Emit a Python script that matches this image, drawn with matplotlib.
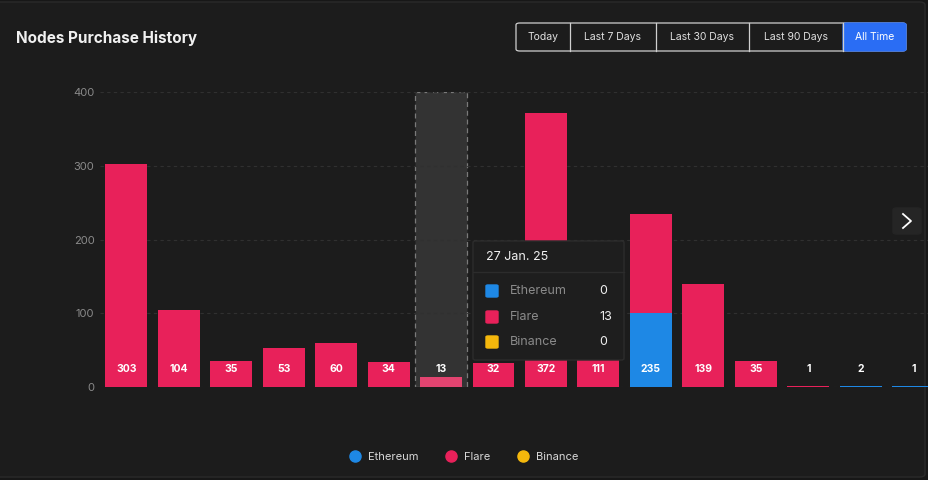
import matplotlib.pyplot as plt
from matplotlib.patches import Rectangle, FancyBboxPatch
from matplotlib.lines import Line2D

plt.rcParams['font.family'] = ['Inter', 'DejaVu Sans']

# dados do grafico (um valor por barra)
ethereum = [0, 0, 0, 0, 0, 0, 0, 0, 0, 0, 100, 0, 0, 0, 2, 1]
flare = [303, 104, 35, 53, 60, 34, 13, 32, 372, 111, 135, 139, 35, 1, 0, 0]
binance = [0, 0, 0, 0, 0, 0, 0, 0, 0, 0, 0, 0, 0, 0, 0, 0]
yticks = [0, 100, 200, 300, 400]
series_names = ['Ethereum', 'Flare', 'Binance']
periods = ['Today', 'Last 7 Days', 'Last 30 Days', 'Last 90 Days', 'All Time']
hover_idx = 6
hover_date = '27 Jan. 25'

BG = '#1c1c1c'
OUT = '#171717'
C_ETH = '#1e88e5'
C_FLR = '#e8215a'
C_BNB = '#f5b80c'
W, H = 929, 480


def px(x, y):
    return x / W, 1 - y / H


fig = plt.figure(figsize=(W / 100, H / 100), dpi=100, facecolor=OUT)

# cartao
fig.add_artist(FancyBboxPatch(px(-10, 477), 935 / W, 475 / H,
                              boxstyle='round,pad=0,rounding_size=0.006',
                              transform=fig.transFigure, facecolor=BG,
                              edgecolor='#2a2a2a', lw=1, zorder=-5))

ax = fig.add_axes([100 / W, 93 / H, 829 / W, 295 / H])
ax.set_facecolor('none')
n = len(flare)
xs = list(range(n))

# destaque da barra sob o mouse
ax.add_patch(Rectangle((hover_idx - 0.5, 0), 1, 400, facecolor='#333333',
                       edgecolor='#7a7a7a', ls=(0, (4, 3)), lw=0.9, zorder=1))

flare_colors = [C_FLR] * n
flare_colors[hover_idx] = '#e24470'
ax.bar(xs, ethereum, width=0.8, color=C_ETH, zorder=2)
ax.bar(xs, flare, width=0.8, bottom=ethereum, color=flare_colors, zorder=2)
bottom2 = [e + f for e, f in zip(ethereum, flare)]
ax.bar(xs, binance, width=0.8, bottom=bottom2, color=C_BNB, zorder=2)

for i in xs:
    total = ethereum[i] + flare[i] + binance[i]
    ax.text(i, 25, str(total), ha='center', va='center', color='white',
            fontsize=7.5, fontweight='bold', zorder=3)

ax.set_xlim(-0.5, 15.3)
ax.set_ylim(0, 400)
ax.set_yticks(yticks)
ax.set_xticks([])
ax.tick_params(axis='y', length=0, pad=4, labelcolor='#8a8a8a', labelsize=8)
ax.grid(axis='y', color='#303030', ls=(0, (3, 3)), lw=0.8, zorder=0)
for s in ax.spines.values():
    s.set_visible(False)

# titulo
fig.text(*px(16, 38), 'Nodes Purchase History', color='#f0f0f0', fontsize=11,
         fontweight='bold', va='center', ha='left')

# botoes de periodo
edges = [516, 570, 656, 749, 843, 906]
top, bot = 23, 51
fig.add_artist(FancyBboxPatch(px(edges[0], bot), (edges[-1] - edges[0]) / W, (bot - top) / H,
                              boxstyle='round,pad=0,rounding_size=0.004',
                              transform=fig.transFigure, facecolor='none',
                              edgecolor='#cfcfcf', lw=0.9))
fig.add_artist(FancyBboxPatch(px(edges[4], bot), (edges[5] - edges[4]) / W, (bot - top) / H,
                              boxstyle='round,pad=0,rounding_size=0.004',
                              transform=fig.transFigure, facecolor='#2a6df4',
                              edgecolor='#2a6df4', lw=0.9))
for k in range(1, 5):
    fig.add_artist(Line2D([edges[k] / W] * 2, [1 - top / H, 1 - bot / H],
                          transform=fig.transFigure, color='#cfcfcf', lw=0.9))
for k, label in enumerate(periods):
    cx = (edges[k] + edges[k + 1]) / 2
    fig.text(*px(cx, 37), label, color='white' if k == 4 else '#e0e0e0',
             fontsize=7.5, ha='center', va='center')

# botao seta
fig.add_artist(FancyBboxPatch(px(893, 234), 28 / W, 26 / H,
                              boxstyle='round,pad=0,rounding_size=0.004',
                              transform=fig.transFigure, facecolor='#252525',
                              edgecolor='#252525'))
fig.add_artist(Line2D([903 / W, 911 / W, 903 / W], [1 - 214 / H, 1 - 221 / H, 1 - 228 / H],
                      transform=fig.transFigure, color='white', lw=1.3))

# tooltip
fig.add_artist(FancyBboxPatch(px(473, 360), 151 / W, 119 / H,
                              boxstyle='round,pad=0,rounding_size=0.003',
                              transform=fig.transFigure, facecolor='#1e1e1e',
                              edgecolor='#2c2c2c', lw=1))
fig.add_artist(Line2D([473 / W, 624 / W], [1 - 272 / H] * 2,
                      transform=fig.transFigure, color='#2c2c2c', lw=1))
fig.text(*px(486, 257), hover_date, color='#f0f0f0', fontsize=9, va='center')
tip_vals = [ethereum[hover_idx], flare[hover_idx], binance[hover_idx]]
for name, col, val, yy in zip(series_names, [C_ETH, C_FLR, C_BNB], tip_vals, [291, 317, 342]):
    fig.add_artist(FancyBboxPatch(px(486, yy + 6), 12 / W, 12 / H,
                                  boxstyle='round,pad=0,rounding_size=0.002',
                                  transform=fig.transFigure, facecolor=col,
                                  edgecolor=col))
    fig.text(*px(510, yy), name, color='#8a8a8a', fontsize=9, va='center')
    fig.text(*px(599, yy), str(val), color='#f0f0f0', fontsize=9, va='center')

# legenda
handles = [Line2D([], [], marker='o', ls='', markersize=8, color=c)
           for c in [C_ETH, C_FLR, C_BNB]]
fig.legend(handles, series_names, loc='center', bbox_to_anchor=px(461, 457), ncol=3,
           frameon=False, labelcolor='#d8d8d8', fontsize=8, handletextpad=0.2,
           columnspacing=1.9)

fig.savefig('out.png', dpi=100, facecolor=OUT)
